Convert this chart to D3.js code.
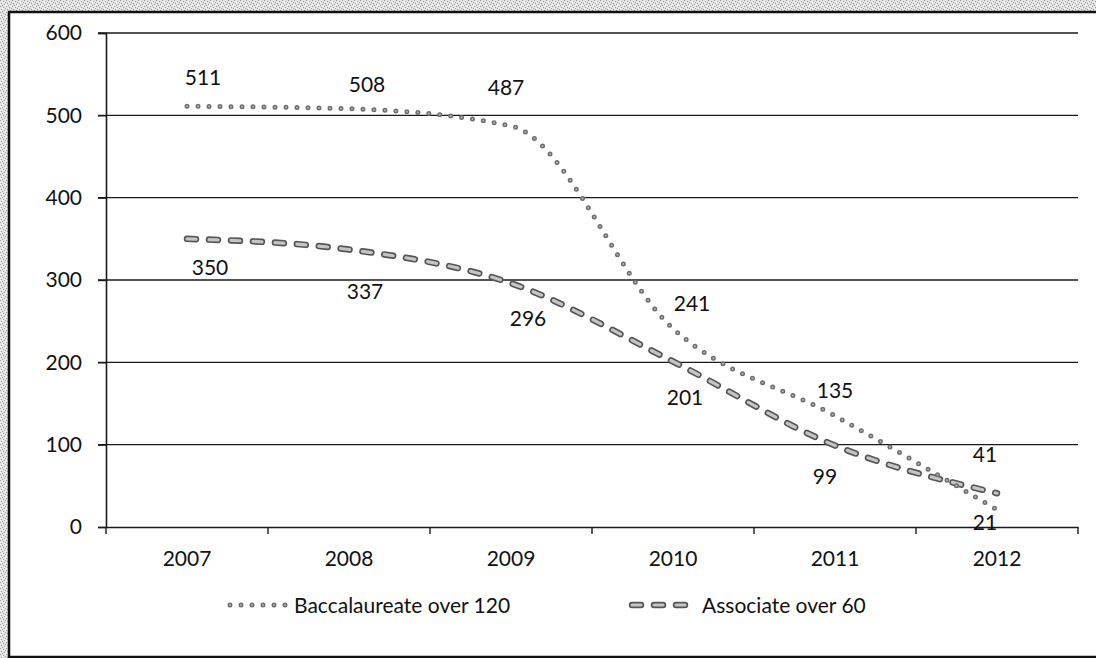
<!DOCTYPE html>
<html>
<head>
<meta charset="utf-8">
<script src="https://cdn.jsdelivr.net/npm/d3@7/dist/d3.min.js"></script>
<style>
  html, body { margin: 0; padding: 0; background: #fff; }
  svg { display: block; }
  text { font-family: Lato, "Liberation Sans", sans-serif; fill: #111; }
</style>
</head>
<body>
<svg id="chart" width="1096" height="658"></svg>
<script>
// ---- data ----
const years = ["2007", "2008", "2009", "2010", "2011", "2012"];
const baccalaureate = [511, 508, 487, 241, 135, 21];
const associate = [350, 337, 296, 201, 99, 41];
const yTicks = [0, 100, 200, 300, 400, 500, 600];
const seriesNames = ["Baccalaureate over 120", "Associate over 60"];

// label placement offsets (px) relative to each point
const baccLabelOffsets = [[16, -29], [18, -24], [-5, -39], [19, -25], [0, -25], [-12, 13]];
const assocLabelOffsets = [[23, 29], [16, 42], [17, 35], [12, 36], [-10, 31], [-12, -39]];

const W = 1096, H = 658;
const plot = { left: 106, right: 1078, top: 33, bottom: 527 };
const FS = 21;

const svg = d3.select("#chart");

// scanned-paper background pattern
const defs = svg.append("defs");
const pat = defs.append("pattern").attr("id", "speckle").attr("width", 6).attr("height", 6)
  .attr("patternUnits", "userSpaceOnUse");
pat.append("rect").attr("width", 6).attr("height", 6).attr("fill", "#e4e4e4");
[[0,0],[3,1],[1,3],[4,4],[5,2],[2,5]].forEach(([px,py]) =>
  pat.append("rect").attr("x", px).attr("y", py).attr("width", 1).attr("height", 1).attr("fill", "#9c9c9c"));
[[2,2],[5,5],[0,4]].forEach(([px,py]) =>
  pat.append("rect").attr("x", px).attr("y", py).attr("width", 1).attr("height", 1).attr("fill", "#ffffff"));

svg.append("rect").attr("width", W).attr("height", H).attr("fill", "url(#speckle)");
svg.append("rect").attr("x", 9).attr("y", 12).attr("width", W + 20).attr("height", H - 13)
  .attr("fill", "#fff").attr("stroke", "#111").attr("stroke-width", 2.5);

// scales
const x = d3.scaleBand().domain(years).range([plot.left, plot.right]).padding(0);
const y = d3.scaleLinear().domain([0, 600]).range([plot.bottom, plot.top]);
const cx = d => x(d) + x.bandwidth() / 2;

// gridlines
svg.append("g").selectAll("line").data(yTicks.filter(t => t > 0)).join("line")
  .attr("x1", plot.left - 8).attr("x2", plot.right)
  .attr("y1", d => y(d)).attr("y2", d => y(d))
  .attr("stroke", "#1a1a1a").attr("stroke-width", 1.4);

// y axis
const yAxis = svg.append("g").attr("transform", `translate(${plot.left},0)`)
  .call(d3.axisLeft(y).tickValues(yTicks).tickSize(8).tickPadding(16));
yAxis.select(".domain").attr("stroke", "#1a1a1a").attr("stroke-width", 1.6);
yAxis.selectAll(".tick line").attr("stroke", "#1a1a1a").attr("stroke-width", 1.4);
yAxis.selectAll(".tick text").attr("font-size", FS).attr("font-family", "Lato, sans-serif").attr("fill", "#111");

// x axis
const xAxis = svg.append("g").attr("transform", `translate(0,${plot.bottom})`)
  .call(d3.axisBottom(x).tickSize(0).tickPadding(24));
xAxis.select(".domain").attr("stroke", "#1a1a1a").attr("stroke-width", 1.6);
xAxis.selectAll(".tick text").attr("font-size", FS).attr("font-family", "Lato, sans-serif").attr("fill", "#111");
// boundary tick marks
const bounds = years.map(d => x(d)).concat([x(years[years.length - 1]) + x.bandwidth()]);
xAxis.append("g").selectAll("line").data(bounds).join("line")
  .attr("x1", d => d).attr("x2", d => d).attr("y1", 0).attr("y2", 7)
  .attr("stroke", "#1a1a1a").attr("stroke-width", 1.4);

// lines
const line = d3.line().x((d, i) => cx(years[i])).y(d => y(d)).curve(d3.curveMonotoneX);

function drawDotted(sel, pathD) {
  sel.append("path").attr("d", pathD).attr("fill", "none")
    .attr("stroke", "#6e6e6e").attr("stroke-width", 5).attr("stroke-linecap", "round")
    .attr("stroke-dasharray", "0 11");
  sel.append("path").attr("d", pathD).attr("fill", "none")
    .attr("stroke", "#b4b4b4").attr("stroke-width", 2).attr("stroke-linecap", "round")
    .attr("stroke-dasharray", "0 11");
}
function drawDashed(sel, pathD) {
  sel.append("path").attr("d", pathD).attr("fill", "none")
    .attr("stroke", "#555").attr("stroke-width", 6.5).attr("stroke-linecap", "round")
    .attr("stroke-dasharray", "9 13");
  sel.append("path").attr("d", pathD).attr("fill", "none")
    .attr("stroke", "#c4c4c4").attr("stroke-width", 3.2).attr("stroke-linecap", "round")
    .attr("stroke-dasharray", "9 13");
}

const gLines = svg.append("g");
drawDashed(gLines.append("g"), line(associate));
drawDotted(gLines.append("g"), line(baccalaureate));

// data labels
function labels(values, offsets) {
  svg.append("g").selectAll("text").data(values).join("text")
    .attr("x", (d, i) => cx(years[i]) + offsets[i][0])
    .attr("y", (d, i) => y(d) + offsets[i][1])
    .attr("dy", "0.36em")
    .attr("text-anchor", "middle").attr("font-size", FS)
    .text(d => d);
}
labels(baccalaureate, baccLabelOffsets);
labels(associate, assocLabelOffsets);

// legend
const legendY = 605;
const leg = svg.append("g");
const l1 = leg.append("g");
drawDotted(l1, `M230,${legendY}L290,${legendY}`);
l1.append("text").attr("x", 294).attr("y", legendY).attr("dy", "0.36em").attr("font-size", FS).text(seriesNames[0]);
const l2 = leg.append("g");
drawDashed(l2, `M632,${legendY}L690,${legendY}`);
l2.append("text").attr("x", 702).attr("y", legendY).attr("dy", "0.36em").attr("font-size", FS).text(seriesNames[1]);
</script>
</body>
</html>
